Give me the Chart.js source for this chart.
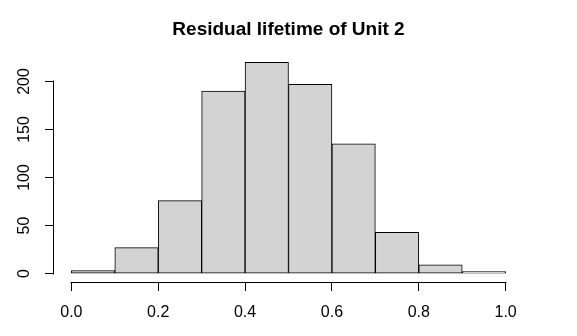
<!DOCTYPE html>
<html>
<head>
<meta charset="utf-8">
<script src="https://cdn.jsdelivr.net/npm/chart.js@4.4.1/dist/chart.umd.min.js"></script>
<style>
  html, body { margin: 0; padding: 0; background: #fff; }
  #wrap { width: 577px; height: 336px; }
</style>
</head>
<body>
<div id="wrap"><canvas id="histChart" width="577" height="336"></canvas></div>
<script>
// histogram data
const breaks = [0.0, 0.1, 0.2, 0.3, 0.4, 0.5, 0.6, 0.7, 0.8, 0.9, 1.0];
const counts = [3, 27, 76, 190, 220, 197, 135, 43, 9, 2];
const xTicks = [0.0, 0.2, 0.4, 0.6, 0.8, 1.0];
const yTicks = [0, 50, 100, 150, 200];

const mids = counts.map((c, i) => (breaks[i] + breaks[i + 1]) / 2);
const font = 'Arial, "Liberation Sans", sans-serif';

// R style axis lines, only from first to last tick
const axisLines = {
    id: 'axisLines',
    afterDraw(chart) {
        const {ctx, chartArea, scales} = chart;
        ctx.save();
        ctx.strokeStyle = '#000';
        ctx.lineWidth = 1;
        ctx.beginPath();
        const x0 = Math.round(scales.x.getPixelForValue(xTicks[0])) - 0.5;
        const x1 = Math.round(scales.x.getPixelForValue(xTicks[xTicks.length - 1])) + 0.5;
        const yb = Math.round(chartArea.bottom) + 0.5;
        ctx.moveTo(x0, yb);
        ctx.lineTo(x1, yb);
        const y0 = Math.round(scales.y.getPixelForValue(yTicks[0])) + 0.5;
        const y1 = Math.round(scales.y.getPixelForValue(yTicks[yTicks.length - 1])) - 0.5;
        const xl = Math.round(chartArea.left) - 0.5;
        ctx.moveTo(xl, y0);
        ctx.lineTo(xl, y1);
        ctx.stroke();
        ctx.restore();
    }
};

const ctx = document.getElementById('histChart').getContext('2d');
const histChart = new Chart(ctx, {
    type: 'bar',
    data: {
        datasets: [{
            label: 'Frequency',
            data: mids.map((m, i) => ({x: m, y: counts[i]})),
            backgroundColor: '#d3d3d3',
            borderColor: '#000',
            borderWidth: 1,
            borderSkipped: false,
            barPercentage: 1,
            categoryPercentage: 1
        }]
    },
    options: {
        responsive: false,
        animation: false,
        layout: { padding: { top: 0, right: 54, bottom: 0, left: 0 } },
        plugins: {
            legend: { display: false },
            tooltip: { enabled: false },
            title: {
                display: true,
                fullSize: false,
                text: 'Residual lifetime of Unit 2',
                color: '#000',
                font: { family: font, size: 19, weight: 'bold', lineHeight: 1.2 },
                padding: { top: 18, bottom: 13 }
            }
        },
        scales: {
            x: {
                type: 'linear',
                offset: false,
                min: -0.04,
                max: 1.04,
                afterBuildTicks: s => { s.ticks = xTicks.map(v => ({value: v})); },
                afterFit: s => { s.height = 54; },
                border: { display: false },
                grid: { offset: false, drawOnChartArea: false, tickLength: 9, color: '#000', lineWidth: 1 },
                ticks: {
                    color: '#000',
                    font: { family: font, size: 16 },
                    padding: 12,
                    maxRotation: 0,
                    autoSkip: false,
                    callback: v => v.toFixed(1)
                }
            },
            y: {
                min: -8.8,
                max: 228.8,
                afterBuildTicks: s => { s.ticks = yTicks.map(v => ({value: v})); },
                afterFit: s => { s.width = 54; },
                border: { display: false },
                grid: { drawOnChartArea: false, tickLength: 9, color: '#000', lineWidth: 1 },
                ticks: {
                    color: '#000',
                    font: { family: font, size: 16 },
                    minRotation: 90,
                    maxRotation: 90,
                    crossAlign: 'center',
                    padding: 7,
                    autoSkip: false
                }
            }
        }
    },
    plugins: [axisLines]
});
</script>
</body>
</html>
